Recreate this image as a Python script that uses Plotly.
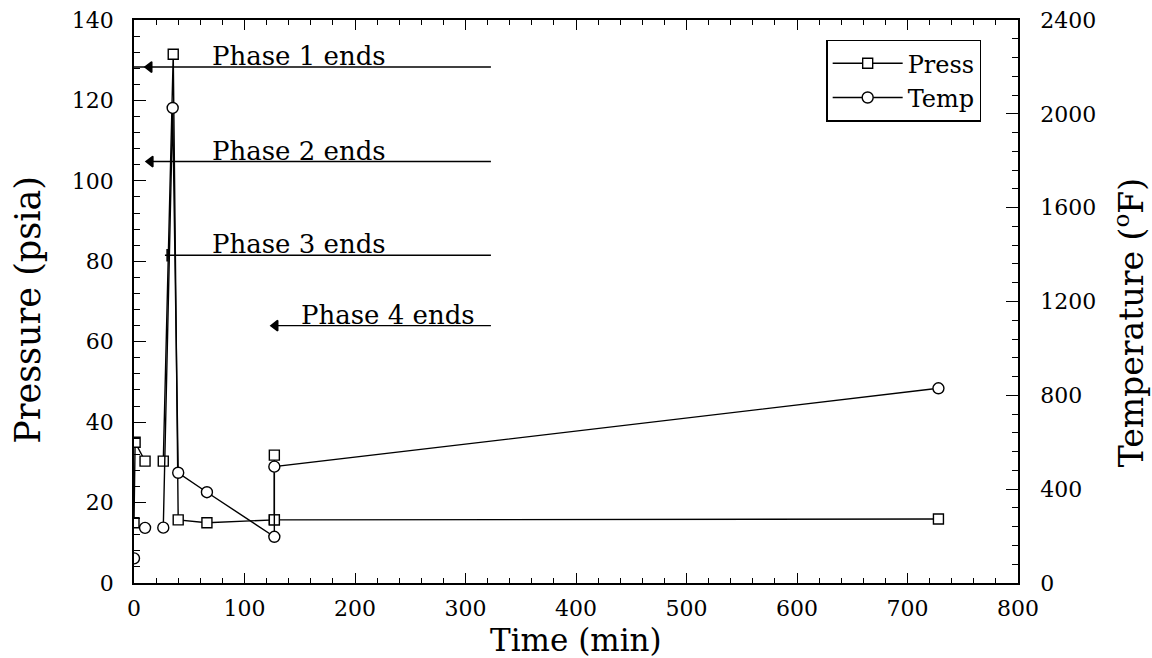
import plotly.graph_objects as go

# Pressure record (psia) against elapsed time (min); None breaks the line
press_time = [0, 1, 10, 26.5, 26.5, 35.5, 40, 66, 127, 127, 127, 728]
press_psia = [15, 35, 30.3, None, 30.3, 131.5, 15.7, 15.0, 15.7, 31.8, 15.7, 15.9]

# Temperature record (deg F) against elapsed time (min)
temp_time = [0, 10, 10, 26.5, 26.5, 35, 40, 66, 127, 127, 728]
temp_degf = [105, None, 235, None, 236, 2025, 470, 387, 197, 496, 830]

# Phase markers: label, pressure level of the leader line, where the line
# starts, where its head sits, and where the label starts
phase_labels = ["Phase 1 ends", "Phase 2 ends", "Phase 3 ends", "Phase 4 ends"]
phase_level = [128.3, 104.8, 81.5, 64.0]
phase_line_start = [0, 13, 28, 126]
phase_head_at = [14, 15, 30, 128]
phase_head = ["triangle-left", "triangle-left", "line-ns", "triangle-left"]
phase_text_start = [69, 69, 69, 149]
phase_line_end = 323

FONT = "DejaVu Serif"

fig = go.Figure()

marker_line = dict(color="black", width=1.4)
fig.add_trace(go.Scatter(
    x=press_time, y=press_psia, name="Press", mode="lines+markers",
    line=dict(color="black", width=1.4), connectgaps=False,
    marker=dict(symbol="square", size=10, color="white", line=marker_line),
))
fig.add_trace(go.Scatter(
    x=temp_time, y=temp_degf, name="Temp", mode="lines+markers", yaxis="y2",
    line=dict(color="black", width=1.4), connectgaps=False,
    marker=dict(symbol="circle", size=11, color="white", line=marker_line),
))

# Leader lines with a head, and their labels
for lab, lev, x0, hx, head, tx in zip(phase_labels, phase_level, phase_line_start,
                                      phase_head_at, phase_head, phase_text_start):
    fig.add_trace(go.Scatter(
        x=[x0, phase_line_end], y=[lev, lev], mode="lines",
        line=dict(color="black", width=1.4), showlegend=False, hoverinfo="skip",
    ))
    fig.add_trace(go.Scatter(
        x=[hx], y=[lev], mode="markers", showlegend=False, hoverinfo="skip",
        marker=dict(symbol=head, size=9, color="black",
                    line=dict(color="black", width=1.6)),
    ))
    fig.add_annotation(
        x=tx, y=lev, xref="x", yref="y", text=lab, showarrow=False,
        xanchor="left", yanchor="bottom", yshift=-6,
        font=dict(family=FONT, size=26, color="black"),
    )

# Axis titles
fig.add_annotation(
    x=0.5, y=-0.102, xref="paper", yref="paper", text="Time (min)",
    showarrow=False, xanchor="center", yanchor="middle",
    font=dict(family=FONT, size=31, color="black"),
)
fig.add_annotation(
    x=-0.12, y=0.485, xref="paper", yref="paper", text="Pressure (psia)",
    textangle=-90, showarrow=False, xanchor="center", yanchor="middle",
    font=dict(family=FONT, size=35, color="black"),
)
fig.add_annotation(
    x=1.127, y=0.462, xref="paper", yref="paper", text="Temperature (<sup>o</sup>F)",
    textangle=-90, showarrow=False, xanchor="center", yanchor="middle",
    font=dict(family=FONT, size=33, color="black"),
)

axis_common = dict(
    showline=True, linecolor="black", linewidth=1.5,
    ticks="inside", tickcolor="black", tickwidth=1.2,
    showgrid=False, zeroline=False, automargin=False,
    tickfont=dict(family=FONT, size=22, color="black"),
)

fig.update_layout(
    width=1152, height=658,
    margin=dict(l=134, r=134, t=20, b=75),
    paper_bgcolor="white", plot_bgcolor="white",
    font=dict(family=FONT, color="black"),
    xaxis=dict(
        range=[0, 800], dtick=100, ticklen=10, mirror="ticks",
        minor=dict(dtick=20, ticklen=5, ticks="inside", tickcolor="black"),
        ticklabelstandoff=5,
        **axis_common,
    ),
    yaxis=dict(
        range=[0, 140], dtick=20, ticklen=12,
        minor=dict(dtick=4, ticklen=6, ticks="inside", tickcolor="black"),
        ticklabelstandoff=14,
        **axis_common,
    ),
    yaxis2=dict(
        range=[0, 2400], dtick=400, ticklen=12, overlaying="y", side="right",
        minor=dict(dtick=80, ticklen=6, ticks="inside", tickcolor="black"),
        ticklabelstandoff=16,
        **axis_common,
    ),
    legend=dict(
        x=0.783, y=0.965, xanchor="left", yanchor="top",
        bordercolor="black", borderwidth=1.5, bgcolor="white",
        font=dict(family=FONT, size=24, color="black"),
        itemwidth=70, tracegroupgap=0,
    ),
)

fig.write_html("out.html")
